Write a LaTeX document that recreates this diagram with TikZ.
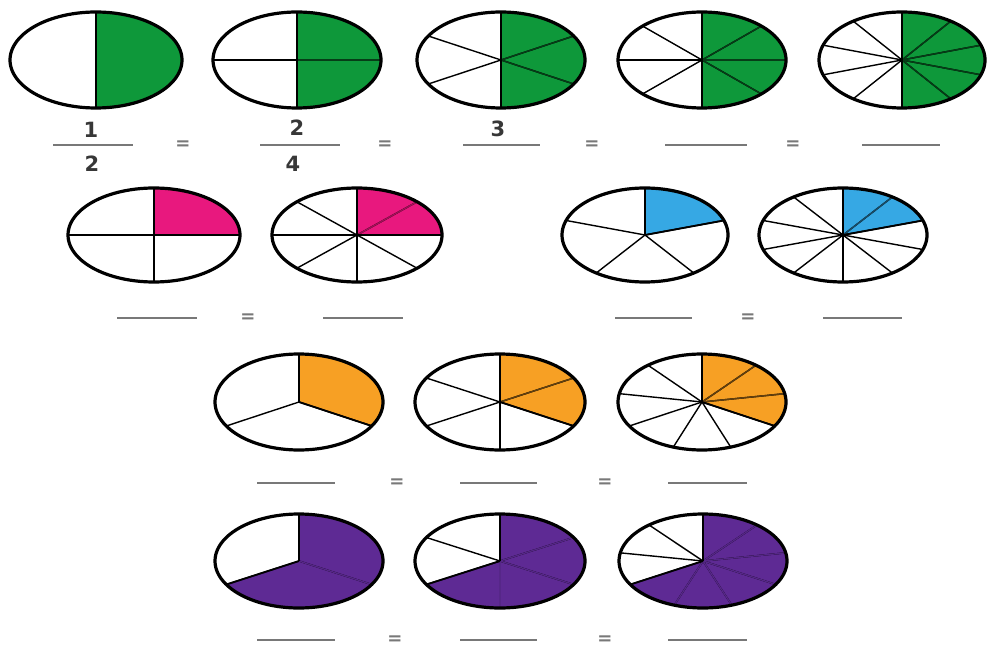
\documentclass[tikz,border=0pt]{standalone}
\usepackage{fontspec}
\setmainfont{DejaVu Sans}
\definecolor{pgreen}{RGB}{14,152,58}
\definecolor{ppink}{RGB}{232,24,126}
\definecolor{pblue}{RGB}{54,168,228}
\definecolor{porange}{RGB}{247,160,36}
\definecolor{ppurple}{RGB}{94,42,148}
\definecolor{blankgray}{RGB}{120,120,120}
\definecolor{digitgray}{RGB}{55,55,55}
\tikzset{
  blankline/.style={draw=blankgray, line width=1.1pt},
  eqsign/.style={text=blankgray, font=\fontsize{9}{10}\selectfont\bfseries, inner sep=0pt},
  digit/.style={text=digitgray, font=\fontsize{10.5}{12}\selectfont\bfseries, inner sep=0pt},
  radial/.style={line width=0.7pt},
  rim/.style={line width=1.6pt}
}
% #1 cx, #2 cy, #3 rx, #4 ry, #5 sectors, #6 fill start, #7 fill end, #8 fill colour, #9 inner line colour
\newcommand{\mypie}[9]{%
  \fill[#8] (#1,#2) -- plot[domain=#6:#7,samples=60] ({#1+#3*cos(\x)},{#2-#4*sin(\x)}) -- cycle;
  \foreach \k in {1,...,#5}{%
    \pgfmathsetmacro{\ang}{90+\k*360/#5}
    \draw[radial] (#1,#2) -- ({#1+#3*cos(\ang)},{#2-#4*sin(\ang)});
  }
  \begin{scope}
    \clip (#1,#2) -- plot[domain=#6:#7,samples=60] ({#1+#3*cos(\x)},{#2-#4*sin(\x)}) -- cycle;
    \foreach \k in {1,...,#5}{%
      \pgfmathsetmacro{\ang}{90+\k*360/#5}
      \draw[radial,draw=#9] (#1,#2) -- ({#1+#3*cos(\ang)},{#2-#4*sin(\ang)});
    }
  \end{scope}
  \draw[line width=0.9pt] (#1,#2) -- ({#1+#3*cos(#6)},{#2-#4*sin(#6)});
  \draw[line width=0.9pt] (#1,#2) -- ({#1+#3*cos(#7)},{#2-#4*sin(#7)});
  \draw[line width=1.2pt] (#1,#2) -- (#1,{#2-#4});
  \draw[rim] plot[domain=0:360,samples=120] ({#1+#3*cos(\x)},{#2-#4*sin(\x)}) -- cycle;
}
\begin{document}
\begin{tikzpicture}[x=0.5pt,y=-0.5pt]
\useasboundingbox (0,0) rectangle (988,646);
\fill[white] (0,0) rectangle (988,646);

% Row 1 - green halves
\mypie{96}{60}{86}{48}{2}{90}{-90}{pgreen}{black!60!pgreen}
\mypie{297}{60}{84}{48}{4}{90}{-90}{pgreen}{black!60!pgreen}
\mypie{501}{60}{84}{48}{6}{90}{-90}{pgreen}{black!60!pgreen}
\mypie{702}{60}{84}{48}{8}{90}{-90}{pgreen}{black!60!pgreen}
\mypie{902}{60}{83}{48}{10}{90}{-90}{pgreen}{black!60!pgreen}

\node[digit] (n1) at (91,130) {1};
\node[digit] (d1) at (92,164) {2};
\node[digit] (n2) at (297,128) {2};
\node[digit] (d2) at (293,164) {4};
\node[digit] (n3) at (498,129) {3};

\draw[blankline] (53,145) -- (133,145);
\draw[blankline] (260,145) -- (340,145);
\draw[blankline] (463,145) -- (540,145);
\draw[blankline] (665,145) -- (747,145);
\draw[blankline] (862,145) -- (940,145);
\node[eqsign] (e11) at (183,145) {=};
\node[eqsign] (e12) at (385,145) {=};
\node[eqsign] (e13) at (592,145) {=};
\node[eqsign] (e14) at (793,145) {=};

% Row 2 - pink quarters and blue fifths
\mypie{154}{235}{86}{47}{4}{90}{0}{ppink}{ppink!70!black}
\mypie{357}{235}{85}{47}{8}{90}{0}{ppink}{ppink!70!black}
\mypie{645}{235}{83}{47}{5}{90}{18}{pblue}{black!55!pblue}
\mypie{843}{235}{84}{47}{10}{90}{18}{pblue}{black!55!pblue}

\draw[blankline] (117,318) -- (197,318);
\draw[blankline] (323,318) -- (403,318);
\node[eqsign] (e21) at (248,318) {=};
\draw[blankline] (615,318) -- (692,318);
\draw[blankline] (823,318) -- (902,318);
\node[eqsign] (e22) at (748,318) {=};

% Row 3 - orange thirds
\mypie{299}{402}{84}{48}{3}{90}{-30}{porange}{black!60!porange}
\mypie{500}{402}{85}{48}{6}{90}{-30}{porange}{black!60!porange}
\mypie{702}{402}{84}{48}{9}{90}{-30}{porange}{black!60!porange}

\draw[blankline] (257,483) -- (335,483);
\draw[blankline] (460,483) -- (537,483);
\draw[blankline] (668,483) -- (747,483);
\node[eqsign] (e31) at (397,483) {=};
\node[eqsign] (e32) at (605,483) {=};

% Row 4 - purple two thirds
\mypie{299}{561}{84}{47}{3}{210}{450}{ppurple}{ppurple!92!black}
\mypie{500}{561}{85}{47}{6}{210}{450}{ppurple}{ppurple!92!black}
\mypie{703}{561}{84}{47}{9}{210}{450}{ppurple}{ppurple!92!black}

\draw[blankline] (257,640) -- (335,640);
\draw[blankline] (460,640) -- (537,640);
\draw[blankline] (668,640) -- (747,640);
\node[eqsign] (e41) at (395,640) {=};
\node[eqsign] (e42) at (605,640) {=};
\end{tikzpicture}
\end{document}
